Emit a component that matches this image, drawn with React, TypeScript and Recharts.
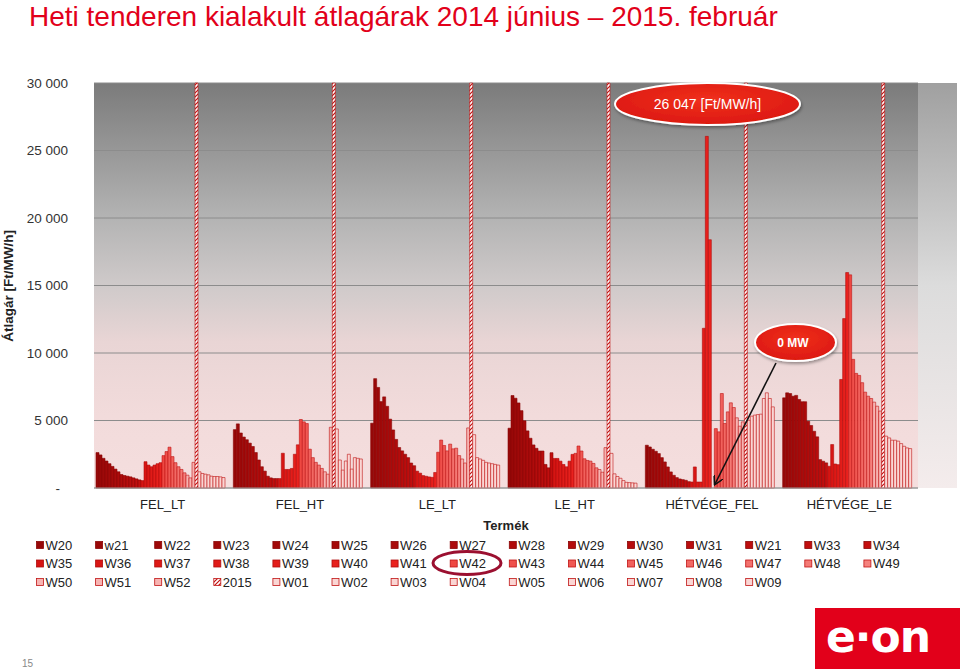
import { Bar, BarChart, CartesianGrid, XAxis, YAxis } from "recharts";

// termék kategóriák
const PRODUCTS = ["FEL_LT", "FEL_HT", "LE_LT", "LE_HT", "HÉTVÉGE_FEL", "HÉTVÉGE_LE"];

// heti sorozatok (a "W21" a 13. helyen így szerepel az eredeti jelmagyarázatban)
const WEEKS = [
  "W20", "w21", "W22", "W23", "W24", "W25", "W26", "W27", "W28", "W29", "W30", "W31", "W21", "W33", "W34",
  "W35", "W36", "W37", "W38", "W39", "W40", "W41", "W42", "W43", "W44", "W45", "W46", "W47", "W48", "W49",
  "W50", "W51", "W52", "2015", "W01", "W02", "W03", "W04", "W05", "W06", "W07", "W08", "W09"
];

const FEL_LT = [
  2625, 2450, 2200, 2000, 1800, 1600, 1400, 1200, 1000, 925, 875, 825, 750, 675, 600, 550,
  1950, 1700, 1575, 1700, 1800, 1875, 2400, 2700, 3025, 2325, 1875, 1575, 1375, 1125, 950, 750, 1900,
  30000, 1200, 1075, 1025, 975, 875, 850, 850, 825, 775
];
const FEL_HT = [
  4325, 4750, 4075, 3775, 3575, 3325, 3075, 2625, 2075, 1575, 1250, 875, 750, 700, 700, 700,
  2575, 1375, 1375, 1450, 2500, 3200, 5075, 4900, 4775, 2875, 2250, 1900, 1700, 1450, 1200, 1025, 4500,
  30000, 4375, 2075, 1325, 2000, 2500, 1400, 2250, 2200, 2150
];
const LE_LT = [
  4800, 8100, 7450, 6400, 6750, 6050, 5100, 4300, 3600, 3000, 2750, 2500, 2250, 1850, 1650, 1250,
  1100, 920, 870, 820, 790, 1150, 2650, 3550, 3150, 2750, 3250, 2900, 2950, 2400, 2150, 1850, 4450,
  30000, 3950, 2250, 2150, 2050, 1900, 1850, 1800, 1750, 1700
];
const LE_HT = [
  4430, 6850, 6650, 6300, 5730, 4980, 4230, 3685, 3190, 2940, 2740, 2740, 1745, 1495, 2615, 2190,
  2190, 1990, 1745, 1570, 1990, 2490, 2565, 3110, 2740, 2165, 2040, 1990, 1820, 1495, 1370, 1170, 2990,
  30000, 2565, 1050, 850, 720, 550, 420, 400, 380, 360
];
const HETVEGE_FEL = [
  3170, 3040, 2870, 2720, 2550, 2250, 1930, 1560, 1190, 940, 770, 670, 620, 570, 470, 445,
  1560, 445, 445, 11830, 26047, 18390, 0, 4400, 4160, 7000, 4780, 5640, 6310, 5960, 5200, 4580, 4900,
  30000, 5020, 5320, 5400, 5440, 5470, 6630, 7050, 6630, 6010
];
const HETVEGE_LE = [
  6680, 7050, 7000, 6800, 6860, 6560, 6390, 6390, 4950, 4630, 4200, 3790, 2100, 1980, 1860, 1610,
  3220, 1780, 1730, 8040, 12550, 15960, 15790, 9530, 8490, 8340, 7800, 7100, 6800, 6630, 6360, 6060, 5700,
  30000, 3840, 3710, 3540, 3540, 3470, 3290, 3090, 2970, 2920
];

const SERIES = [FEL_LT, FEL_HT, LE_LT, LE_HT, HETVEGE_FEL, HETVEGE_LE];
const Y_TICKS = [0, 5000, 10000, 15000, 20000, 25000, 30000];

const rows = PRODUCTS.map((product, p) => {
  const row: Record<string, string | number> = { product };
  SERIES[p].forEach((v, i) => {
    row[`s${i}`] = v;
  });
  return row;
});

const lerp = (a: number[], b: number[], t: number) =>
  `rgb(${a.map((c, k) => Math.round(c + (b[k] - c) * t)).join(",")})`;

function barFill(i: number) {
  if (i === 33) return "url(#hatch2015)";
  if (i <= 14) return lerp([150, 8, 8], [196, 14, 14], i / 14);
  if (i <= 21) return lerp([214, 20, 18], [234, 34, 30], (i - 15) / 6);
  if (i <= 29) return lerp([238, 72, 66], [245, 130, 126], (i - 22) / 7);
  if (i <= 32) return "rgb(247,180,178)";
  return "rgb(250,214,212)";
}

function barStroke(i: number) {
  if (i <= 14) return "#8a0606";
  if (i <= 21) return "#b00e0e";
  return "#c01414";
}

const fmt = (v: number) => (v === 0 ? "-" : String(v).replace(/\B(?=(\d{3})+(?!\d))/g, " "));

function YTick(props: any) {
  const { x, y, payload } = props;
  const v = payload.value as number;
  return (
    <text x={v === 0 ? x - 8 : x} y={y} dy={4.5} textAnchor="end" fill="#333" fontSize={13.5}>
      {fmt(v)}
    </text>
  );
}

const FONT = "'Liberation Sans', Arial, sans-serif";

function Overlay() {
  return (
    <svg width={960} height={669} style={{ position: "absolute", left: 0, top: 0, pointerEvents: "none" }} fontFamily={FONT}>
      <defs>
        <linearGradient id="sideGrad" x1="0" y1="0" x2="0" y2="1">
          <stop offset="0" stopColor="#a0a0a0" />
          <stop offset="0.5" stopColor="#dcdcdc" />
          <stop offset="1" stopColor="#f4ecec" />
        </linearGradient>
        <radialGradient id="bubble" cx="0.5" cy="0.4" r="0.6">
          <stop offset="0" stopColor="#f0301c" />
          <stop offset="1" stopColor="#dc1810" />
        </radialGradient>
        <filter id="shadow" x="-20%" y="-30%" width="140%" height="170%">
          <feDropShadow dx="1" dy="2" stdDeviation="1.5" floodColor="#000" floodOpacity="0.35" />
        </filter>
        <marker id="arrowHead" markerWidth="10" markerHeight="10" refX="8" refY="5" orient="auto" markerUnits="userSpaceOnUse">
          <path d="M0,0 L9,5 L0,10" fill="none" stroke="#111" strokeWidth={1.6} />
        </marker>
      </defs>

      <rect x={918} y={83} width={39} height={405} fill="url(#sideGrad)" />

      <text x={29} y={26} fill="#e2001a" fontSize={28}>
        Heti tenderen kialakult átlagárak 2014 június – 2015. február
      </text>

      <text transform="translate(13,286) rotate(-90)" textAnchor="middle" fontSize={13.5} fontWeight="bold" fill="#222">
        Átlagár [Ft/MW/h]
      </text>

      <text x={506} y={530} textAnchor="middle" fontSize={13} fontWeight="bold" fill="#222">
        Termék
      </text>

      {WEEKS.map((w, i) => {
        const col = i % 15;
        const r = Math.floor(i / 15);
        const x = 36.5 + col * 59.1;
        const y = 545 + r * 18.5;
        return (
          <g key={w + i}>
            <rect x={x} y={y - 3.5} width={7} height={7} fill={barFill(i)} stroke={barStroke(i)} strokeWidth={0.8} />
            <text x={x + 9} y={y + 4.5} fontSize={13} fill="#222">
              {w}
            </text>
          </g>
        );
      })}

      <ellipse cx={467} cy={563} rx={34} ry={11.5} fill="none" stroke="#9b1030" strokeWidth={3} />

      <g filter="url(#shadow)">
        <ellipse cx={707.5} cy={104} rx={92.5} ry={21} fill="url(#bubble)" stroke="#fff" strokeWidth={2} />
        <ellipse cx={795.5} cy={342.5} rx={40.5} ry={18.5} fill="url(#bubble)" stroke="#fff" strokeWidth={2} />
      </g>
      <text x={707.5} y={109} textAnchor="middle" fontSize={14} fill="#fff">
        26 047 [Ft/MW/h]
      </text>
      <text x={793} y={347} textAnchor="middle" fontSize={12} fontWeight="bold" fill="#fff">
        0 MW
      </text>
      <line x1={776} y1={363} x2={715} y2={484} stroke="#111" strokeWidth={1.6} markerEnd="url(#arrowHead)" />

      <rect x={815} y={608} width={145} height={61} fill="#e2001a" />
      <text x={878} y={652} textAnchor="middle" fontSize={44} fontWeight="bold" fill="#fff" fontFamily="'DejaVu Sans', sans-serif" letterSpacing={-1}>
        e·on
      </text>

      <text x={22} y={667} fontSize={10} fill="#888">
        15
      </text>
    </svg>
  );
}

export default function App() {
  return (
    <div style={{ position: "absolute", left: 0, top: 0, width: 960, height: 669, background: "#fff", fontFamily: FONT }}>
      <BarChart
        width={960}
        height={669}
        data={rows}
        margin={{ top: 83, right: 42, bottom: 151, left: 0 }}
        barCategoryGap={2}
        barGap={0}
      >
        <defs>
          <linearGradient id="plotBg" x1="0" y1="0" x2="0" y2="1">
            <stop offset="0" stopColor="#7b7b7b" />
            <stop offset="0.33" stopColor="#b3b3b3" />
            <stop offset="0.5" stopColor="#cfcaca" />
            <stop offset="0.64" stopColor="#e9d5d5" />
            <stop offset="0.82" stopColor="#f2dbdb" />
            <stop offset="1" stopColor="#f5dede" />
          </linearGradient>
          <pattern id="hatch2015" patternUnits="userSpaceOnUse" width="4" height="4">
            <rect width="4" height="4" fill="#fff" />
            <path d="M-1,1 L1,-1 M0,4 L4,0 M3,5 L5,3" stroke="#c41010" strokeWidth={1.2} />
          </pattern>
        </defs>
        <CartesianGrid vertical={false} stroke="#8c8c8c" fill="url(#plotBg)" fillOpacity={1} />
        <XAxis
          dataKey="product"
          height={30}
          axisLine={{ stroke: "#a0a0a0" }}
          tickLine={false}
          tickSize={6}
          tickMargin={6}
          tick={{ fill: "#222", fontSize: 13 }}
          interval={0}
        />
        <YAxis
          width={94}
          domain={[0, 30000]}
          ticks={Y_TICKS}
          axisLine={false}
          tickLine={false}
          tickSize={24}
          tickMargin={2}
          tick={<YTick />}
        />
        {WEEKS.map((w, i) => (
          <Bar
            key={`s${i}`}
            dataKey={`s${i}`}
            name={w}
            fill={barFill(i)}
            stroke={barStroke(i)}
            strokeWidth={0.6}
            isAnimationActive={false}
          />
        ))}
      </BarChart>
      <Overlay />
    </div>
  );
}
